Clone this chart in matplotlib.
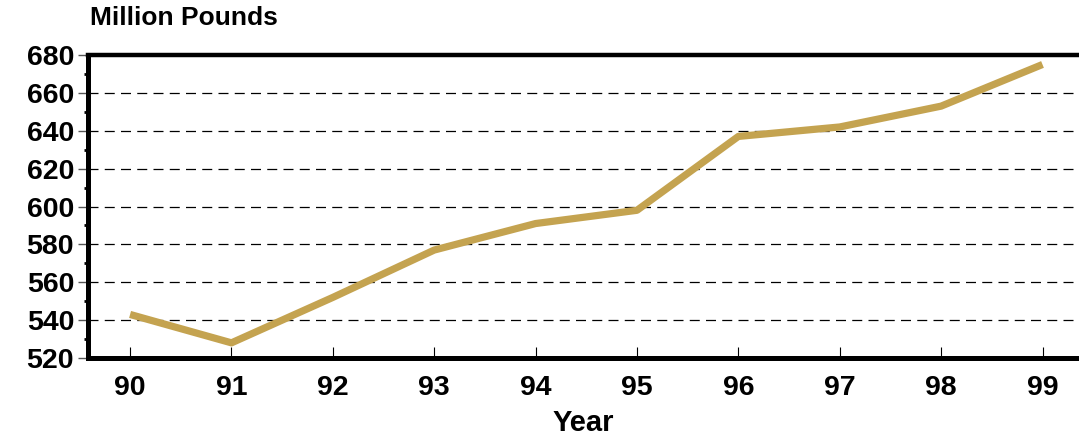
import matplotlib
matplotlib.use("Agg")
import matplotlib.pyplot as plt
from matplotlib.ticker import MultipleLocator

years = [90, 91, 92, 93, 94, 95, 96, 97, 98, 99]
values = [543, 528, 552, 577, 591, 598, 637, 642, 653, 675]
yticks = [520, 540, 560, 580, 600, 620, 640, 660, 680]

plt.rcParams['font.family'] = ['Liberation Sans', 'DejaVu Sans']
plt.rcParams['font.weight'] = 'bold'

fig = plt.figure(figsize=(10.79, 4.36), dpi=100)
ax = fig.add_axes([88/1079, 1-358/436, 1-88/1079, (358-55)/436])

ax.plot(years, values, color='#C4A350', lw=5.2, solid_capstyle='butt', zorder=3)

ax.set_xlim(89.585, 99.36)
ax.set_ylim(520, 680)
ax.set_yticks(yticks)
ax.set_xticks(years)
ax.yaxis.set_minor_locator(MultipleLocator(10))

for y in yticks[1:-1]:
    ax.axhline(y, color='black', lw=0.9, ls=(0, (8, 5)), zorder=1)

ax.spines['right'].set_visible(False)
ax.spines['left'].set_linewidth(3.6)
ax.spines['bottom'].set_linewidth(3.6)
ax.spines['top'].set_linewidth(3.2)

ax.tick_params(axis='y', which='major', direction='out', length=7, width=1, color='#555555',
               labelsize=20.5, pad=3)
ax.tick_params(axis='y', which='minor', direction='out', length=3, width=2, color='black')
ax.tick_params(axis='x', which='major', direction='in', length=8, width=0.8, color='black',
               labelsize=20.5, pad=12)

ax.set_xlabel('Year', fontsize=21, fontweight='bold', labelpad=6)
fig.text(90/1079, 1-18/436, 'Million Pounds', fontsize=19, fontweight='bold', va='center', ha='left')

fig.savefig('out.png', dpi=100)
